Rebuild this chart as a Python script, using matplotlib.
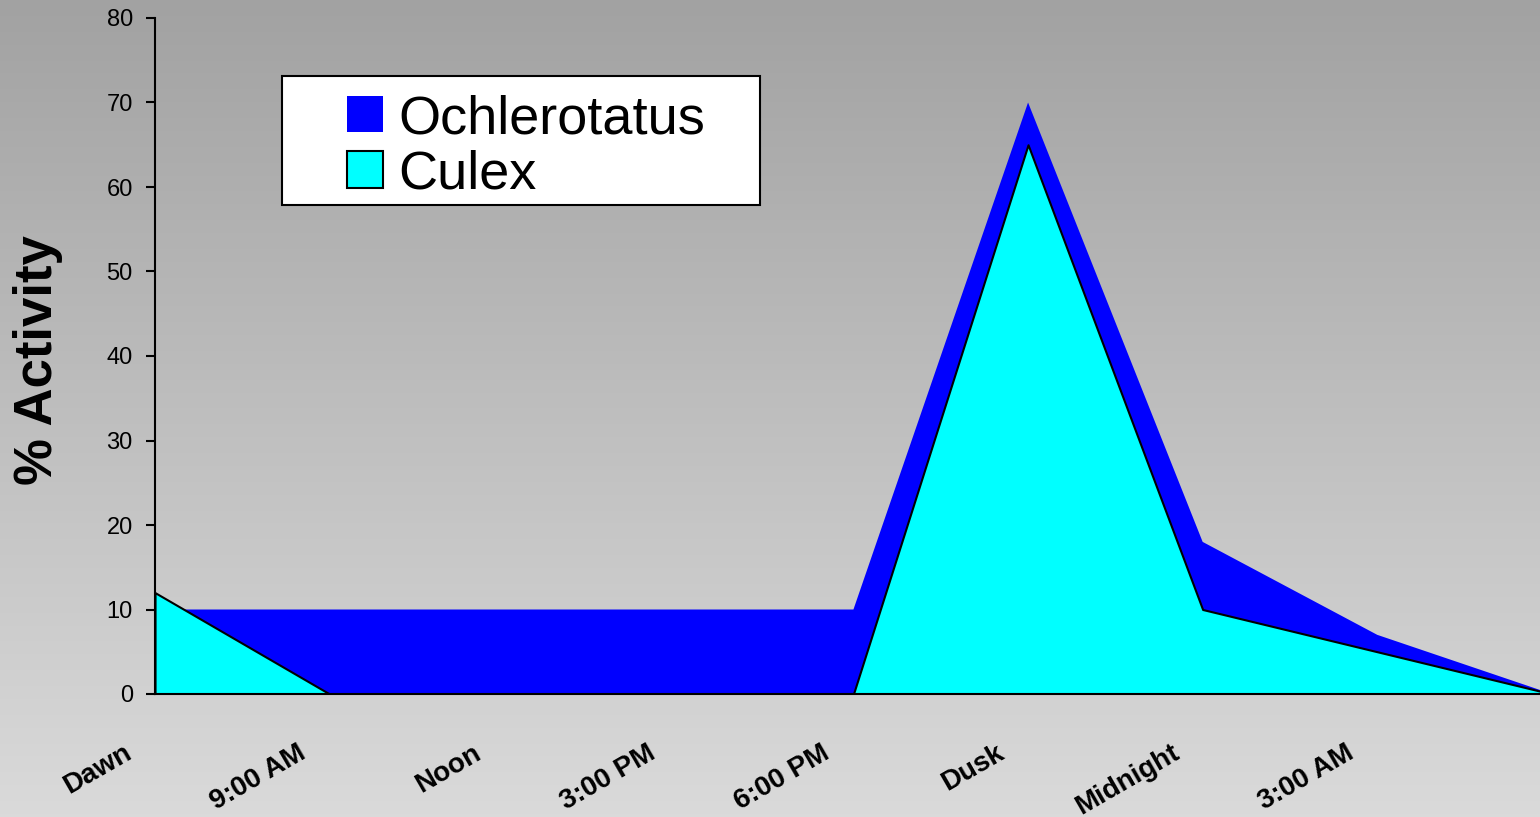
import numpy as np
import matplotlib
matplotlib.use('Agg')
import matplotlib.pyplot as plt
from matplotlib.colors import LinearSegmentedColormap
from matplotlib.patches import Rectangle, Patch
from matplotlib.transforms import ScaledTranslation

# time of day categories (the 9th point falls off the right edge, no label shown)
times = ['Dawn', '9:00 AM', 'Noon', '3:00 PM', '6:00 PM', 'Dusk', 'Midnight', '3:00 AM']
ochlerotatus = [10, 10, 10, 10, 10, 70, 18, 7, 0]
culex = [12, 0, 0, 0, 0, 65, 10, 5, 0]
species = ['Ochlerotatus', 'Culex']

plt.rcParams['font.family'] = ['Liberation Sans', 'DejaVu Sans']

W, H = 1540, 817
fig = plt.figure(figsize=(W / 100, H / 100), dpi=100)

# grey vertical gradient background
bg = fig.add_axes([0, 0, 1, 1], zorder=-10)
grad = np.linspace(0, 1, 256).reshape(-1, 1)
cmap = LinearSegmentedColormap.from_list('bg', ['#a2a2a2', '#dadada'])
bg.imshow(grad, aspect='auto', cmap=cmap, extent=[0, 1, 0, 1], origin='upper')
bg.axis('off')

ax = fig.add_axes([155 / W, (H - 694) / H, (W - 155) / W, (694 - 18) / H])
ax.set_facecolor('none')

x = np.arange(len(ochlerotatus))
ax.fill_between(x, 0, ochlerotatus, facecolor='#0000ff', edgecolor='none', lw=0, zorder=2)
ax.fill_between(x, 0, culex, facecolor='#00ffff', edgecolor='black', lw=1.5, zorder=3)

ax.set_xlim(0, 7.932)
ax.set_ylim(0, 80)
ax.set_yticks(range(0, 81, 10))
ax.set_xticks(x[:len(times)])
ax.set_xticklabels(times, rotation=30, ha='right', va='top', fontsize=20, fontweight='bold')
ax.tick_params(axis='x', length=0, pad=33)
ax.tick_params(axis='y', direction='out', length=6.5, width=1.5, labelsize=17, pad=9.5)
shift = ScaledTranslation(-19 / 100, 0, fig.dpi_scale_trans)
for lab in ax.get_xticklabels():
    lab.set_transform(lab.get_transform() + shift)

for s in ['top', 'right']:
    ax.spines[s].set_visible(False)
for s in ['left', 'bottom']:
    ax.spines[s].set_linewidth(1.5)
    ax.spines[s].set_zorder(5)

ax.set_ylabel('% Activity', fontsize=38, fontweight='bold', va='center')
ax.yaxis.set_label_coords((38 - 155) / (W - 155), 0.494)

# legend box
frame = Rectangle((282 / W, 1 - 205 / H), 478 / W, 129 / H, transform=fig.transFigure,
                  facecolor='white', edgecolor='black', lw=1.5, zorder=6, clip_on=False)
ax.add_patch(frame)
handles = [Patch(facecolor='#0000ff', edgecolor='none'),
           Patch(facecolor='#00ffff', edgecolor='black', lw=1.5)]
leg = ax.legend(handles, species, loc='upper left', bbox_to_anchor=(347 / W, 1 - 94 / H),
                bbox_transform=fig.transFigure, frameon=False, fontsize=39,
                handlelength=0.67, handleheight=0.67, handletextpad=0.28,
                labelspacing=0.1, borderpad=0, borderaxespad=0)
leg.set_zorder(7)

fig.savefig('out.png', dpi=100)
